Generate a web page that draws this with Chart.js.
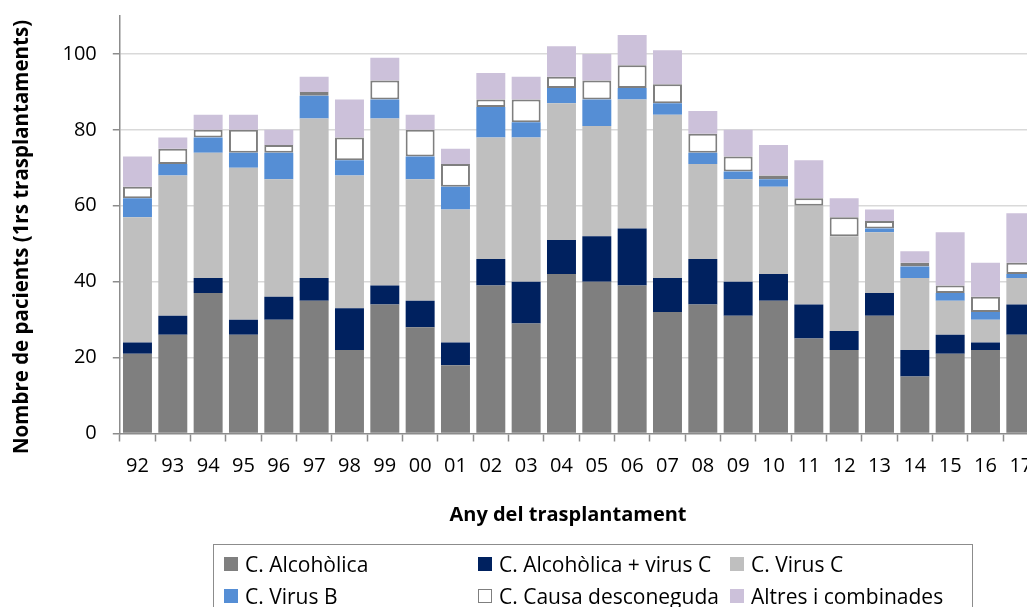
<!DOCTYPE html>
<html>
<head>
<meta charset="utf-8">
<script src="https://cdn.jsdelivr.net/npm/chart.js@4.4.0/dist/chart.umd.min.js"></script>
<style>
  html, body { margin: 0; padding: 0; background: #fff; }
  body { width: 1027px; height: 607px; overflow: hidden; position: relative; font-family: "Open Sans", sans-serif; }
  #chart { position: absolute; left: 0; top: 0; }
  #legend {
    position: absolute; left: 213px; top: 544px; width: 760px; height: 90px;
    border: 1.5px solid #8c8c8c; box-sizing: border-box;
  }
  .item { position: absolute; font-size: 21px; color: #000; white-space: nowrap; line-height: 24px; }
  .item .box { position: absolute; left: 0; top: 5px; width: 14px; height: 14px; box-sizing: border-box; }
  .item span.txt { margin-left: 21px; }
</style>
</head>
<body>
<canvas id="chart" width="1100" height="607"></canvas>
<div id="legend"></div>
<script>
const years = ['92','93','94','95','96','97','98','99','00','01','02','03','04','05','06','07','08','09','10','11','12','13','14','15','16','17'];

const alcoholica  = [21,26,37,26,30,35,22,34,28,18,39,29,42,40,39,32,34,31,35,25,22,31,15,21,22,26];
const alcVirusC   = [ 3, 5, 4, 4, 6, 6,11, 5, 7, 6, 7,11, 9,12,15, 9,12, 9, 7, 9, 5, 6, 7, 5, 2, 8];
const virusC      = [33,37,33,40,31,42,35,44,32,35,32,38,36,29,34,43,25,27,23,26,25,16,19, 9, 6, 7];
const virusB      = [ 5, 3, 4, 4, 7, 6, 4, 5, 6, 6, 8, 4, 4, 7, 3, 3, 3, 2, 2, 0, 0, 1, 3, 2, 2, 1];
const desconeguda = [ 3, 4, 2, 6, 2, 1, 6, 5, 7, 6, 2, 6, 3, 5, 6, 5, 5, 4, 1, 2, 5, 2, 1, 2, 4, 3];
const altres      = [ 8, 3, 4, 4, 4, 4,10, 6, 4, 4, 7, 6, 8, 7, 8, 9, 6, 7, 8,10, 5, 3, 3,14, 9,13];

const yTicks = [0, 20, 40, 60, 80, 100];
const xTitle = 'Any del trasplantament';
const yTitle = 'Nombre de pacients (1rs trasplantaments)';

const series = [
  { label: 'C. Alcohòlica', data: alcoholica, color: '#7f7f7f' },
  { label: 'C. Alcohòlica + virus C', data: alcVirusC, color: '#00215f' },
  { label: 'C. Virus C', data: virusC, color: '#bfbfbf' },
  { label: 'C. Virus B', data: virusB, color: '#558ed5' },
  { label: 'C. Causa desconeguda', data: desconeguda, color: '#ffffff', border: '#7f7f7f' },
  { label: 'Altres i combinades', data: altres, color: '#ccc1da' },
];

const datasets = series.map(s => ({
  label: s.label,
  data: s.data,
  backgroundColor: s.color,
  borderColor: s.border || s.color,
  borderWidth: s.border ? 2 : 0,
  borderSkipped: false,
  barPercentage: 0.82,
  categoryPercentage: 1.0,
}));

// axis titles drawn by hand so they sit where the original puts them
const axisTitles = {
  id: 'axisTitles',
  afterDraw(chart) {
    const ctx = chart.ctx;
    ctx.save();
    ctx.fillStyle = '#000';
    ctx.textAlign = 'center';
    ctx.textBaseline = 'middle';
    ctx.font = 'bold 20px "Open Sans"';
    ctx.fillText(xTitle, 568, 515);
    ctx.font = 'bold 20.5px "Open Sans"';
    ctx.translate(22, 237);
    ctx.rotate(-Math.PI / 2);
    ctx.fillText(yTitle, 0, 0);
    ctx.restore();
  }
};

const tickFont = { family: 'Open Sans', size: 20 };

new Chart(document.getElementById('chart'), {
  type: 'bar',
  data: { labels: years, datasets },
  options: {
    responsive: false,
    animation: false,
    layout: { padding: { left: 0, right: 61.5, top: 16, bottom: 0 } },
    plugins: { legend: { display: false }, tooltip: { enabled: false } },
    scales: {
      x: {
        stacked: true,
        afterFit: (scale) => { scale.height = 173.5; },
        border: { color: '#8c8c8c', width: 1.5 },
        grid: {
          offset: true,
          drawOnChartArea: false,
          drawTicks: true,
          tickLength: 8,
          tickColor: '#8c8c8c',
          tickWidth: 1.5,
        },
        ticks: { color: '#000', font: tickFont, padding: 13, maxRotation: 0, autoSkip: false },
      },
      y: {
        stacked: true,
        min: 0,
        max: 110,
        afterFit: (scale) => {
          scale.width = 119.8;
          scale.paddingTop = 0;
          scale.paddingBottom = 0;
        },
        afterBuildTicks: (scale) => {
          scale.ticks = yTicks.map(v => ({ value: v }));
        },
        border: { color: '#8c8c8c', width: 1.5 },
        grid: {
          color: (c) => (c.tick && c.tick.value === 0 ? 'rgba(0,0,0,0)' : '#d9d9d9'),
          lineWidth: 1.5,
          borderDash: [7, 4],
          drawTicks: true,
          tickLength: 7,
          tickColor: '#8c8c8c',
          tickWidth: 1.5,
          tickBorderDash: [],
        },
        ticks: { color: '#000', font: tickFont, padding: 16 },
      },
    },
  },
  plugins: [axisTitles],
});

// legend box in three columns, like the original
const legend = document.getElementById('legend');
const colX = [10, 264, 516];
const rowY = [7, 39];
series.forEach((s, i) => {
  const item = document.createElement('div');
  item.className = 'item';
  item.style.left = colX[i % 3] + 'px';
  item.style.top = rowY[Math.floor(i / 3)] + 'px';
  const box = document.createElement('div');
  box.className = 'box';
  box.style.background = s.color;
  if (s.border) box.style.border = '1.5px solid ' + s.border;
  const txt = document.createElement('span');
  txt.className = 'txt';
  txt.textContent = s.label;
  item.appendChild(box);
  item.appendChild(txt);
  legend.appendChild(item);
});
</script>
</body>
</html>
